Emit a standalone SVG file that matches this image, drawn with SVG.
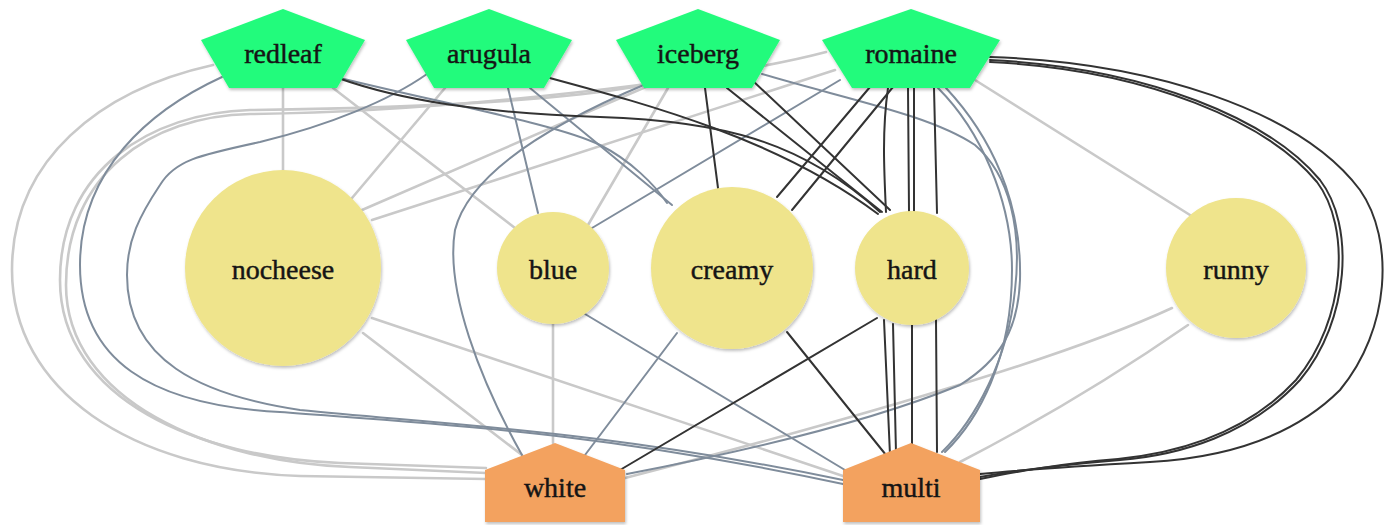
<svg xmlns="http://www.w3.org/2000/svg" width="1388" height="525" viewBox="0 0 1388 525">
<defs>
<filter id="sh" x="-10%" y="-10%" width="120%" height="125%">
<feDropShadow dx="1" dy="2" stdDeviation="1.5" flood-color="#000" flood-opacity="0.25"/>
</filter>
<style>
.e{fill:none;stroke-linecap:round}
.g{stroke:#c9c9c9;stroke-width:2.6}
.s{stroke:#7f8c9b;stroke-width:2}
.d{stroke:#333;stroke-width:2}
.lt{fill:#24fb7c;filter:url(#sh)}
.ch{fill:#efe48c;filter:url(#sh)}
.dr{fill:#f3a25f;filter:url(#sh)}
text{font-family:"Liberation Serif","Times New Roman",serif;font-size:28px;fill:#151515;stroke:#151515;stroke-width:0.45;text-anchor:middle}
</style>
</defs>
<rect width="1388" height="525" fill="#fff"/>
<g id="edges">
<path class="e g" d="M283,88 L283,170"/>
<path class="e g" d="M333,88 L515,228"/>
<path class="e g" d="M445,88 L352,198"/>
<path class="e g" d="M648,86 L362,210"/>
<path class="e g" d="M835,70 L372,220"/>
<path class="e g" d="M668,88 L588,225"/>
<path class="e g" d="M975,80 L1190,215"/>
<path class="e g" d="M363,333 L522,455"/>
<path class="e g" d="M372,318 L843,476"/>
<path class="e g" d="M553,324 L553,443"/>
<path class="e g" d="M1172,308 C1060,360 850,420 625,478"/>
<path class="e g" d="M1188,325 Q1080,400 960,462"/>
<path class="e g" d="M213,65 C100,90 12,160 12,270 C12,390 130,470 300,476 L486,479"/>
<path class="e g" d="M640,86 C560,100 420,108 250,110 C150,113 60,170 60,280 C60,400 200,458 340,463 L486,468"/>
<path class="e g" d="M826,52 C720,80 450,112 250,114 C150,116 66,175 66,285 C66,400 210,462 350,467 L486,473"/>
<path class="e s" d="M222,77 C150,110 80,170 80,265 C80,360 150,405 280,412 C450,425 600,432 843,484"/>
<path class="e s" d="M427,74 C390,100 330,125 260,142 C200,155 175,160 160,185 C140,215 127,240 127,275 C127,360 200,395 300,410 C450,425 600,430 843,480"/>
<path class="e s" d="M508,88 L538,213"/>
<path class="e s" d="M340,78 C450,105 560,125 600,145 C630,160 655,185 667,203"/>
<path class="e s" d="M530,88 L672,205"/>
<path class="e s" d="M646,84 C560,120 470,170 455,230 C445,290 480,380 522,455"/>
<path class="e s" d="M840,80 L592,228"/>
<path class="e s" d="M762,74 C850,100 930,115 975,145 C1010,175 1022,230 1015,290 C1008,360 975,420 942,452"/>
<path class="e s" d="M938,88 C980,130 1012,200 1012,270 C1012,360 978,420 945,452"/>
<path class="e s" d="M946,88 C990,135 1022,200 1020,280 C1018,330 1000,360 960,385 C850,430 700,460 627,474"/>
<path class="e s" d="M585,314 L845,470"/>
<path class="e s" d="M677,333 L585,455"/>
<path class="e d" d="M338,78 C400,100 480,113 600,117 C720,121 800,140 880,212"/>
<path class="e d" d="M550,78 C650,105 780,140 878,214"/>
<path class="e d" d="M705,88 L718,188"/>
<path class="e d" d="M727,88 L882,212"/>
<path class="e d" d="M752,80 L890,210"/>
<path class="e d" d="M870,87 L777,197"/>
<path class="e d" d="M893,87 L792,210"/>
<path class="e d" d="M888,88 C882,130 884,170 886,212"/>
<path class="e d" d="M908,88 L909,211"/>
<path class="e d" d="M914,88 L914,211"/>
<path class="e d" d="M934,88 L937,213"/>
<path class="e d" d="M884,320 L890,455"/>
<path class="e d" d="M893,324 L896,453"/>
<path class="e d" d="M912,325 L912,444"/>
<path class="e d" d="M936,320 L937,452"/>
<path class="e d" d="M877,318 L620,470"/>
<path class="e d" d="M787,332 L886,455"/>
<path class="e d" d="M990,57 C1150,62 1300,110 1360,190 C1395,240 1390,330 1340,390 C1290,440 1220,458 1150,462 C1080,466 1020,470 980,474"/>
<path class="e d" d="M990,60 C1150,68 1270,120 1320,180 C1355,225 1350,320 1300,380 C1250,435 1180,455 1120,460 C1060,465 1020,470 980,477"/>
<path class="e d" d="M990,62 C1150,70 1268,123 1317,182 C1351,227 1346,320 1296,380 C1247,433 1178,453 1118,459 C1058,464 1020,471 980,479"/>
</g>
<g id="redleaf"><polygon class="lt" points="283,9 365,40 337,88 229,88 201,40"/><text x="283" y="63">redleaf</text></g>
<g id="arugula"><polygon class="lt" points="489,9 572,40 544,88 434,88 406,40"/><text x="489" y="63">arugula</text></g>
<g id="iceberg"><polygon class="lt" points="698,9 780,40 752,88 644,88 616,40"/><text x="698" y="63">iceberg</text></g>
<g id="romaine"><polygon class="lt" points="911,9 1000,40 970,88 852,88 822,40"/><text x="911" y="63">romaine</text></g>
<g id="nocheese"><circle class="ch" cx="283" cy="268" r="98"/><text x="283" y="279">nocheese</text></g>
<g id="blue"><circle class="ch" cx="553" cy="268" r="56"/><text x="553" y="279">blue</text></g>
<g id="creamy"><circle class="ch" cx="732" cy="268" r="81"/><text x="732" y="279">creamy</text></g>
<g id="hard"><circle class="ch" cx="912" cy="268" r="57"/><text x="912" y="279">hard</text></g>
<g id="runny"><circle class="ch" cx="1236" cy="268" r="70"/><text x="1236" y="279">runny</text></g>
<g id="white"><polygon class="dr" points="555,443 625,470 625,522 485,522 485,470"/><text x="555" y="497">white</text></g>
<g id="multi"><polygon class="dr" points="911,443 980,470 980,522 843,522 843,470"/><text x="911" y="497">multi</text></g>
</svg>
